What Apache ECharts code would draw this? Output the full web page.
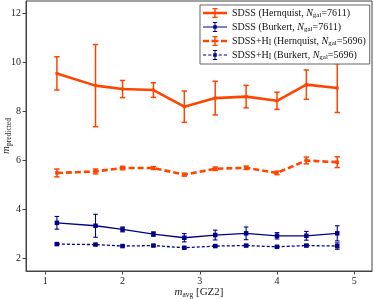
<!DOCTYPE html>
<html>
<head>
<meta charset="utf-8">
<script src="https://cdn.jsdelivr.net/npm/echarts@6/dist/echarts.min.js"></script>
<style>
html,body{margin:0;padding:0;background:#fff;}
#c{width:374px;height:299px;}
</style>
</head>
<body>
<div id="c"></div>
<script>
var xVals = [1.15, 1.65, 2.0, 2.4, 2.8, 3.2, 3.6, 4.0, 4.38, 4.78];
var hernSDSS = [9.56, 9.06, 8.92, 8.88, 8.20, 8.55, 8.61, 8.44, 9.10, 8.96];
var hernSDSSErr = [0.68, 1.68, 0.35, 0.30, 0.64, 0.69, 0.46, 0.35, 0.60, 1.00];
var hernHI = [5.49, 5.55, 5.69, 5.69, 5.42, 5.66, 5.70, 5.49, 6.00, 5.93];
var hernHIErr = [0.16, 0.10, 0.07, 0.06, 0.06, 0.07, 0.07, 0.07, 0.14, 0.22];
var burkSDSS = [3.45, 3.33, 3.18, 2.99, 2.84, 2.95, 3.02, 2.92, 2.92, 3.02];
var burkSDSSErr = [0.26, 0.47, 0.10, 0.09, 0.17, 0.20, 0.26, 0.13, 0.18, 0.31];
var burkHI = [2.58, 2.56, 2.50, 2.52, 2.43, 2.50, 2.52, 2.47, 2.52, 2.50];
var burkHIErr = [0.04, 0.03, 0.03, 0.03, 0.03, 0.03, 0.03, 0.03, 0.04, 0.13];
var xTicks = [1, 2, 3, 4, 5];
var yTicks = [2, 4, 6, 8, 10, 12];
var seriesNames = ['hernSDSS', 'burkSDSS', 'hernHI', 'burkHI'];
var legendLabels = {
  hernSDSS: '{t|SDSS (Hernquist, }{i|N}{s|gal}{t|=7611)}',
  burkSDSS: '{t|SDSS (Burkert, }{i|N}{s|gal}{t|=7611)}',
  hernHI: '{t|SDSS+H}{sc|I}{t| (Hernquist, }{i|N}{s|gal}{t|=5696)}',
  burkHI: '{t|SDSS+H}{sc|I}{t| (Burkert, }{i|N}{s|gal}{t|=5696)}'
};

var ORANGE = '#ff4500';
var BLUE = '#00008b';
var FONT = 'Liberation Serif';

function pairs(xs, ys) { return xs.map(function (x, i) { return [x, ys[i]]; }); }
function errData(xs, ys, es) { return xs.map(function (x, i) { return [x, ys[i] - es[i], ys[i] + es[i]]; }); }

function errSeries(name, data, color, width, capHalf) {
  return {
    name: name + '_err', type: 'custom', data: data, z: 3,
    renderItem: function (params, api) {
      var lo = api.coord([api.value(0), api.value(1)]);
      var hi = api.coord([api.value(0), api.value(2)]);
      var st = { stroke: color, lineWidth: width };
      return { type: 'group', children: [
        { type: 'line', shape: { x1: lo[0], y1: lo[1], x2: hi[0], y2: hi[1] }, style: st },
        { type: 'line', shape: { x1: lo[0] - capHalf, y1: lo[1], x2: lo[0] + capHalf, y2: lo[1] }, style: st },
        { type: 'line', shape: { x1: hi[0] - capHalf, y1: hi[1], x2: hi[0] + capHalf, y2: hi[1] }, style: st }
      ]};
    }
  };
}

function lineSeries(name, data, color, width, dash, symSize) {
  return {
    name: name, type: 'line', data: data, z: 4,
    symbol: 'rect', symbolSize: symSize, showSymbol: true,
    itemStyle: { color: color, borderWidth: 0 },
    lineStyle: { color: color, width: width, type: dash },
    emphasis: { disabled: true }, animation: false
  };
}

var iconHSolid = 'path://M0 3.8h24v2.4h-24Z M11.3 0h1.4v10h-1.4Z M9.4 0h5.2v1.2h-5.2Z M9.4 8.8h5.2v1.2h-5.2Z';
var iconHDash = 'path://M0 3.8h6v2.4h-6Z M8.5 3.8h7v2.4h-7Z M18 3.8h6v2.4h-6Z M11.3 0h1.4v10h-1.4Z M9.4 0h5.2v1.2h-5.2Z M9.4 8.8h5.2v1.2h-5.2Z';
var iconBSolid = 'path://M0 4.4h24v1.2h-24Z M11.5 0h1v10h-1Z M9.8 0h4.4v1h-4.4Z M9.8 9h4.4v1h-4.4Z M10.2 3.2h3.6v3.6h-3.6Z';
var iconBDash = 'path://M0 4.4h3.2v1.2h-3.2Z M5.2 4.4h3.2v1.2h-3.2Z M15.6 4.4h3.2v1.2h-3.2Z M20.8 4.4h3.2v1.2h-3.2Z M11.5 0h1v10h-1Z M9.8 0h4.4v1h-4.4Z M9.8 9h4.4v1h-4.4Z M10.2 3.2h3.6v3.6h-3.6Z';
var icons = { hernSDSS: iconHSolid, burkSDSS: iconBSolid, hernHI: iconHDash, burkHI: iconBDash };

var chart = echarts.init(document.getElementById('c'), null, { renderer: 'canvas' });
chart.setOption({
  animation: false,
  textStyle: { fontFamily: FONT },
  grid: { left: 26, right: 2, top: 1, bottom: 28, show: true, borderColor: '#444', borderWidth: 1, containLabel: false, outerBoundsMode: 'none' },
  legend: {
    orient: 'vertical', left: 200, top: 5,
    data: seriesNames.map(function (n) { return { name: n, icon: icons[n] }; }),
    itemWidth: 24, itemHeight: 10, itemGap: 3,
    padding: [3, 4, 3, 3],
    borderColor: '#666', borderWidth: 1, backgroundColor: '#fff',
    itemStyle: { borderWidth: 0 },
    selectedMode: false,
    formatter: function (n) { return legendLabels[n]; },
    textStyle: {
      fontFamily: FONT, fontSize: 10, color: '#111',
      rich: {
        t: { fontFamily: FONT, fontSize: 10, color: '#111', lineHeight: 12 },
        i: { fontFamily: FONT, fontSize: 10, fontStyle: 'italic', color: '#111', lineHeight: 12 },
        s: { fontFamily: FONT, fontSize: 7, color: '#111', verticalAlign: 'bottom', lineHeight: 7 },
        sc: { fontFamily: FONT, fontSize: 7.5, color: '#111', verticalAlign: 'bottom', lineHeight: 10 }
      }
    }
  },
  xAxis: {
    type: 'value', min: 0.75, max: 5.23,
    splitLine: { show: false },
    axisLine: { show: true, onZero: false, lineStyle: { color: '#444', width: 1 } },
    axisTick: { show: true, length: 3.5, customValues: xTicks, lineStyle: { color: '#444' } },
    axisLabel: { customValues: xTicks, margin: 5, fontFamily: FONT, fontSize: 10, color: '#222' },
    name: '{i|m}{s|avg}{t| [GZ2]}', nameLocation: 'middle', nameGap: 15, nameMoveOverlap: false,
    nameTextStyle: {
      rich: {
        i: { fontFamily: FONT, fontSize: 11, fontStyle: 'italic', color: '#222', lineHeight: 13 },
        s: { fontFamily: FONT, fontSize: 7.5, color: '#222', verticalAlign: 'bottom', lineHeight: 8 },
        t: { fontFamily: FONT, fontSize: 11, color: '#222', lineHeight: 13 }
      }
    }
  },
  yAxis: {
    type: 'value', min: 1.48, max: 12.52,
    splitLine: { show: false },
    axisLine: { show: true, onZero: false, lineStyle: { color: '#444', width: 1 } },
    axisTick: { show: true, length: 3.5, customValues: yTicks, lineStyle: { color: '#444' } },
    axisLabel: { customValues: yTicks, margin: 5, fontFamily: FONT, fontSize: 10, color: '#222' },
    name: '{i|m}{s|predicted}', nameLocation: 'middle', nameGap: 13, nameMoveOverlap: false,
    nameTextStyle: {
      rich: {
        i: { fontFamily: FONT, fontSize: 11, fontStyle: 'italic', color: '#222', lineHeight: 13 },
        s: { fontFamily: FONT, fontSize: 7.5, color: '#222', verticalAlign: 'bottom', lineHeight: 8 }
      }
    }
  },
  series: [
    errSeries('hernSDSS', errData(xVals, hernSDSS, hernSDSSErr), ORANGE, 1.5, 2.7),
    lineSeries('hernSDSS', pairs(xVals, hernSDSS), ORANGE, 2.6, 'solid', 3),
    errSeries('burkSDSS', errData(xVals, burkSDSS, burkSDSSErr), BLUE, 1.1, 2.3),
    lineSeries('burkSDSS', pairs(xVals, burkSDSS), BLUE, 1.3, 'solid', 4.5),
    errSeries('hernHI', errData(xVals, hernHI, hernHIErr), ORANGE, 1.5, 2.7),
    lineSeries('hernHI', pairs(xVals, hernHI), ORANGE, 2.6, [6, 3], 3.5),
    errSeries('burkHI', errData(xVals, burkHI, burkHIErr), BLUE, 1.1, 2.3),
    lineSeries('burkHI', pairs(xVals, burkHI), BLUE, 1.3, [3, 2], 4.5)
  ]
});
</script>
</body>
</html>
